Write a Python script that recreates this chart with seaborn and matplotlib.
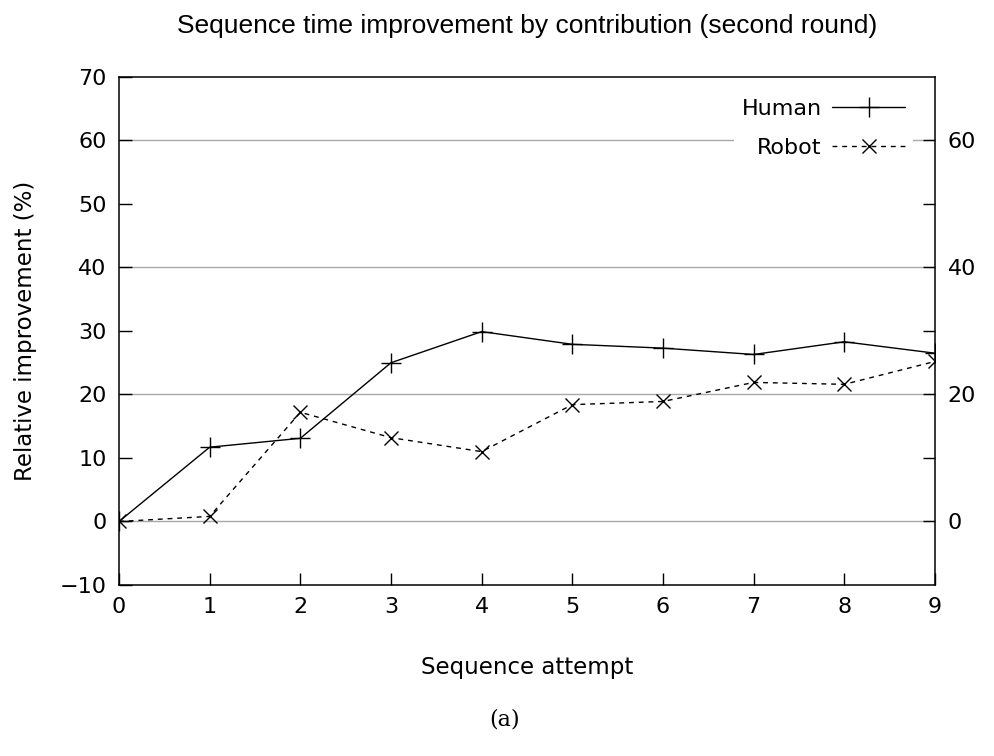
import numpy as np
import matplotlib
matplotlib.use("Agg")
import matplotlib.pyplot as plt
import seaborn as sns

attempts = [0, 1, 2, 3, 4, 5, 6, 7, 8, 9]
human = [0.0, 11.7, 13.1, 25.0, 29.9, 27.9, 27.3, 26.3, 28.3, 26.5]
robot = [0.0, 0.8, 17.2, 13.2, 11.0, 18.4, 18.9, 21.9, 21.6, 25.2]

left_ticks = [-10, 0, 10, 20, 30, 40, 50, 60, 70]
right_ticks = [0, 20, 40, 60]
right_minor = [10, 30, 50]

sns.set_theme(style="ticks")
plt.rcParams['font.family'] = ['DejaVu Sans']
plt.rcParams['text.color'] = 'black'
plt.rcParams['axes.labelcolor'] = 'black'

fig = plt.figure(figsize=(9.95, 7.56), dpi=100)
ax = fig.add_axes([0.1196, 0.2262, 0.8201, 0.6720])

sns.lineplot(x=attempts, y=human, ax=ax, color="black", lw=1.0, marker="+",
             markersize=14, markeredgewidth=1.0, markeredgecolor="black",
             label="Human")
sns.lineplot(x=attempts, y=robot, ax=ax, color="black", lw=1.0, marker="x",
             markersize=10, markeredgewidth=1.0, markeredgecolor="black",
             linestyle=(0, (3.5, 3.5)), label="Robot")

ax.set_xlim(0, 9)
ax.set_ylim(-10, 70)
ax.set_xticks(attempts)
ax.set_yticks(left_ticks)
for v in right_ticks:
    ax.axhline(v, color="#a8a8a8", lw=1.0, zorder=0)

ax.tick_params(direction="in", length=9, width=1, labelsize=16, colors="black", pad=9)
ax.tick_params(axis="y", right=False)
for s in ax.spines.values():
    s.set_color("black")
    s.set_linewidth(1.1)

ax2 = ax.twinx()
ax2.set_ylim(-10, 70)
ax2.set_yticks(right_ticks)
ax2.set_yticks(right_minor, minor=True)
ax2.tick_params(which="both", direction="in", length=9, width=1, labelsize=16,
                colors="black", pad=9)
ax2.tick_params(axis="y", left=False)
for s in ax2.spines.values():
    s.set_visible(False)

ax.set_xlabel("Sequence attempt", fontsize=16.5, labelpad=28)
ax.set_ylabel("Relative improvement (%)", fontsize=16.5, labelpad=16)
ax.set_title("Sequence time improvement by contribution (second round)",
             fontsize=19, family="Liberation Sans", pad=32)

leg = ax.legend(loc="upper right", bbox_to_anchor=(0.973, 0.972), frameon=True,
                markerfirst=False, fontsize=16, handlelength=3.3,
                handletextpad=0.45, borderaxespad=0, borderpad=0.35,
                labelspacing=0.85)
leg.get_frame().set_edgecolor("none")
leg.get_frame().set_facecolor("white")
leg.get_frame().set_alpha(1)
leg.get_frame().set_boxstyle("square", pad=0)
for t in leg.get_texts():
    t.set_ha("right")

fig.text(0.5075, 0.048, "(a)", ha="center", va="center", fontsize=16,
         family="DejaVu Serif")

fig.savefig("out.png", dpi=100)
